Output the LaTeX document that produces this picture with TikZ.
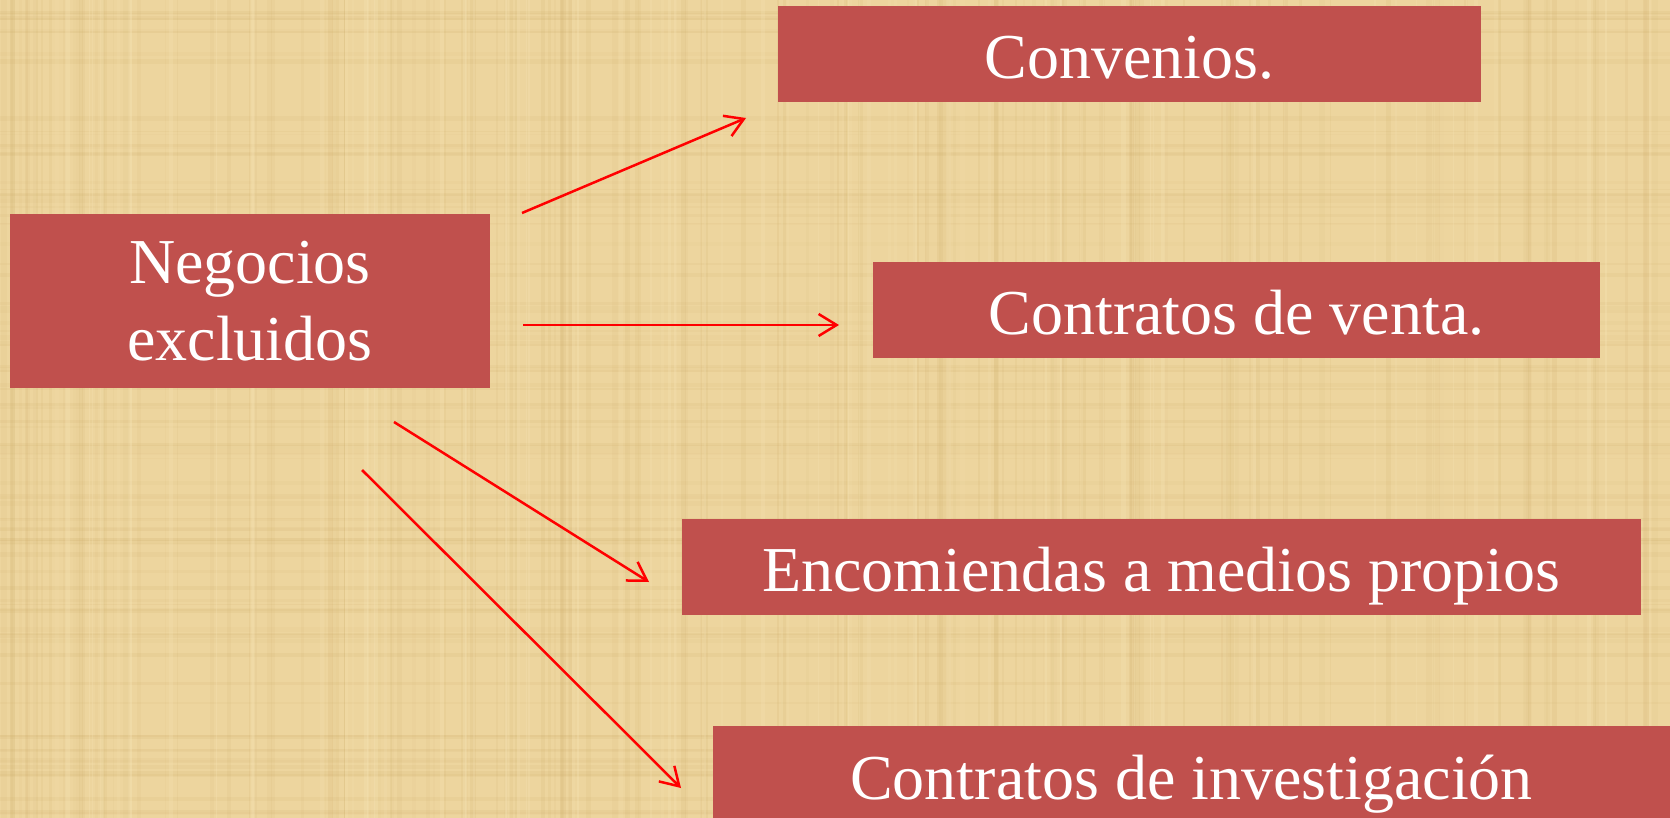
\documentclass[tikz,border=0pt]{standalone}
\usepackage{fontspec}
\setmainfont{Liberation Serif}
\usetikzlibrary{arrows.meta}
\definecolor{bgpaper}{HTML}{EDD59E}
\definecolor{bgdark}{HTML}{C9A660}
\definecolor{bglight}{HTML}{F8E6B8}
\definecolor{boxred}{HTML}{C0504D}
\definecolor{arrowred}{HTML}{FF0000}
\begin{document}
\begin{tikzpicture}[x=1pt,y=-1pt,
  box/.style={fill=boxred, draw=none, text=white, inner sep=0pt, anchor=center,
    font=\fontsize{64}{77}\selectfont, text height=49pt, text depth=0pt},
  link/.style={draw=arrowred, line width=2.5pt, -{Straight Barb[length=18pt,width=22pt]}}]
\useasboundingbox (0,0) rectangle (1670,818);
\fill[bgpaper] (0,0) rectangle (1670,818);
\pgfmathsetseed{11}
\foreach \i in {1,...,160}{
  \pgfmathsetmacro\xx{rnd*1670}
  \pgfmathsetmacro\ww{1+rnd*5}
  \pgfmathsetmacro\op{0.04+rnd*0.10}
  \fill[bgdark, opacity=\op] (\xx,0) rectangle ++(\ww,818);
}
\foreach \i in {1,...,90}{
  \pgfmathsetmacro\yy{rnd*818}
  \pgfmathsetmacro\hh{1+rnd*4}
  \pgfmathsetmacro\op{0.04+rnd*0.09}
  \fill[bgdark, opacity=\op] (0,\yy) rectangle ++(1670,\hh);
}
\foreach \i in {1,...,80}{
  \pgfmathsetmacro\xx{rnd*1670}
  \pgfmathsetmacro\ww{1+rnd*4}
  \pgfmathsetmacro\op{0.10+rnd*0.20}
  \fill[bglight, opacity=\op] (\xx,0) rectangle ++(\ww,818);
}
% boxes
\node[box, minimum width=480pt, minimum height=174pt, align=center,
  text height=, text depth=] (neg) at (250,301) {Negocios\\excluidos};
\node[box, minimum width=703pt, minimum height=96pt] (conv) at (1129.5,54) {Convenios.};
\node[box, minimum width=727pt, minimum height=96pt] (venta) at (1236.5,310) {Contratos de venta.};
\node[box, minimum width=959pt, minimum height=96pt] (enc) at (1161.5,566.5) {Encomiendas a medios propios};
\node[box, minimum width=957pt, minimum height=98pt] (inv) at (1191.5,775) {Contratos de investigación};
% connector ends
\coordinate (s1) at (522,213);  \coordinate (e1) at (746,118);
\coordinate (s2) at (523,325);  \coordinate (e2) at (839,325);
\coordinate (s3) at (394,422);  \coordinate (e3) at (649,582);
\coordinate (s4) at (362,470);  \coordinate (e4) at (681,788);
\draw[link] (s1) -- (e1);
\draw[link] (s2) -- (e2);
\draw[link] (s3) -- (e3);
\draw[link] (s4) -- (e4);
\end{tikzpicture}
\end{document}
